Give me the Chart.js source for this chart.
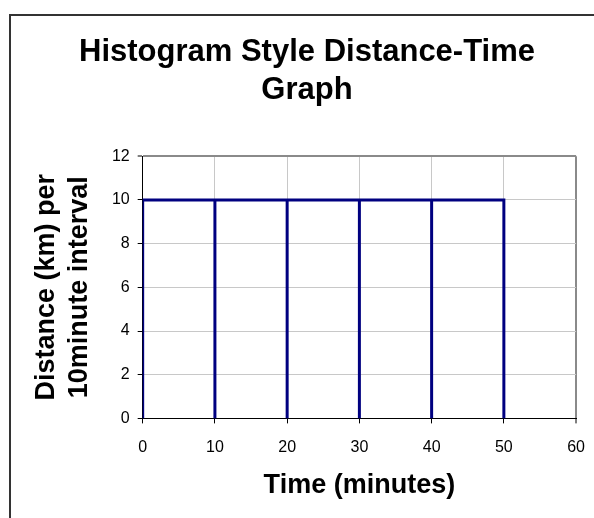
<!DOCTYPE html>
<html><head><meta charset="utf-8">
<script src="https://cdn.jsdelivr.net/npm/chart.js@4"></script>
<style>
html,body{margin:0;padding:0;background:#fff;}
#wrap{position:relative;width:594px;height:518px;overflow:hidden;background:#fff;}
#frame{position:absolute;left:9px;top:14px;width:700px;height:700px;border:2px solid #333;box-sizing:border-box;pointer-events:none;}
canvas{position:absolute;left:0;top:0;}
</style></head><body>
<div id="wrap"><canvas id="c" width="594" height="518"></canvas><div id="frame"></div></div>
<script>
// Data: each 10-minute interval and the distance covered in it
const intervalStart = [0, 10, 20, 30, 40];
const intervalEnd   = [10, 20, 30, 40, 50];
const distanceKm    = [10, 10, 10, 10, 10];
const xTickStep = 10, xMin = 0, xMax = 60;
const yTickStep = 2,  yMin = 0, yMax = 12;
const chartTitle = ['Histogram Style Distance-Time', 'Graph'];
const xTitle = 'Time (minutes)';
const yTitle = ['Distance (km) per', '10minute interval'];

// Build the histogram-style outline from the intervals
const points = [];
intervalStart.forEach((s, i) => {
  points.push({x: s, y: 0});
  points.push({x: s, y: distanceKm[i]});
  points.push({x: intervalEnd[i], y: distanceKm[i]});
  points.push({x: intervalEnd[i], y: 0});
});

const FONT = "'Liberation Sans', Arial, sans-serif";
const gridCol = (edgeVal) => (ctx) => (ctx.tick && ctx.tick.value === edgeVal) ? '#8a8a8a' : '#c8c8c8';
const gridW = (edgeVal) => (ctx) => (ctx.tick && ctx.tick.value === edgeVal) ? 2 : 1;

new Chart(document.getElementById('c'), {
  type: 'line',
  data: {
    datasets: [{
      data: points,
      borderColor: '#000080',
      borderWidth: 3,
      pointRadius: 0,
      fill: false,
      tension: 0
    }]
  },
  options: {
    responsive: false,
    animation: false,
    layout: {padding: {left: 20, right: 0, top: 33, bottom: 10}},
    plugins: {
      legend: {display: false},
      tooltip: {enabled: false},
      title: {
        display: true, text: chartTitle, color: '#000',
        font: {family: FONT, size: 31, weight: 'bold', lineHeight: 1.23},
        padding: {top: 0, bottom: 47}
      }
    },
    scales: {
      x: {
        type: 'linear', min: xMin, max: xMax,
        ticks: {stepSize: xTickStep, color: '#000', font: {family: FONT, size: 16, lineHeight: 1.95}, padding: 9, maxRotation: 0},
        grid: {color: gridCol(xMax), lineWidth: gridW(xMax), tickColor: '#000', tickLength: 5, tickWidth: 1},
        border: {color: '#000', width: 1},
        title: {display: true, text: xTitle, color: '#000',
          font: {family: FONT, size: 27, weight: 'bold', lineHeight: 1.2},
          padding: {top: -3.3, bottom: 6.3}}
      },
      y: {
        type: 'linear', min: yMin, max: yMax,
        ticks: {stepSize: yTickStep, color: '#000', font: {family: FONT, size: 16}, padding: 8},
        grid: {color: gridCol(yMax), lineWidth: gridW(yMax), tickColor: '#000', tickLength: 5, tickWidth: 1},
        border: {color: '#000', width: 1},
        title: {display: true, text: yTitle, color: '#000',
          font: {family: FONT, size: 27, weight: 'bold', lineHeight: 1.22},
          padding: {top: 10.5, bottom: 7.5}}
      }
    }
  }
});
</script>
</body></html>
